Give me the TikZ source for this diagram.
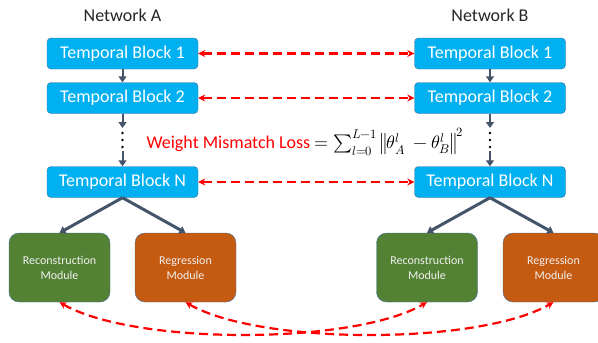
\documentclass[tikz,border=0pt]{standalone}
\usepackage{fontspec}
\usepackage{unicode-math}
\setmainfont{Carlito}
\setmathfont{Latin Modern Math}
\usetikzlibrary{positioning,arrows.meta}
\definecolor{blockBlue}{HTML}{00B0F0}
\definecolor{edgeBlue}{HTML}{41719C}
\definecolor{reconGreen}{HTML}{548235}
\definecolor{regrOrange}{HTML}{C55A11}
\definecolor{arrowGray}{HTML}{44546A}
\tikzstyle{tempBlock}=[draw=edgeBlue, fill=blockBlue, rounded corners=4pt, minimum width=151pt, minimum height=31pt, inner sep=0pt, text=white, font=\fontsize{18}{21}\selectfont]
\tikzstyle{moduleBox}=[draw=edgeBlue, rounded corners=10pt, minimum width=101pt, minimum height=69pt, inner sep=0pt, align=center, text=white!88!gray, font=\fontsize{12}{15}\selectfont]
\tikzstyle{flowArrow}=[-{Triangle[length=6pt,width=8pt]}, arrowGray, line width=2pt]
\tikzstyle{lossArrow}=[{Stealth[length=7pt,width=7pt]}-{Stealth[length=7pt,width=7pt]}, red, line width=2.2pt, dash pattern=on 9pt off 5pt]

\begin{document}
\begin{tikzpicture}[x=1pt,y=1pt]
	\useasboundingbox (0,0) rectangle (598,-343);

	\node[font=\fontsize{18}{21}\selectfont, text=black!85] (netA) at (122.5,-15) {Network A};
	\node[font=\fontsize{18}{21}\selectfont, text=black!85] (netB) at (490,-15) {Network B};

	\node[tempBlock] (a1) at (122.5,-53.5) {Temporal Block 1};
	\node[tempBlock] (a2) at (122.5,-98) {Temporal Block 2};
	\node[tempBlock] (aN) at (122.5,-182) {Temporal Block N};

	\node[tempBlock] (b1) at (490,-53.5) {Temporal Block 1};
	\node[tempBlock] (b2) at (490,-98) {Temporal Block 2};
	\node[tempBlock] (bN) at (490,-182) {Temporal Block N};

	\node[moduleBox, fill=reconGreen] (recA) at (59.5,-267.5) {Reconstruction\\Module};
	\node[moduleBox, fill=regrOrange] (regA) at (185.5,-267.5) {Regression\\Module};
	\node[moduleBox, fill=reconGreen] (recB) at (427,-267.5) {Reconstruction\\Module};
	\node[moduleBox, fill=regrOrange] (regB) at (553.5,-267.5) {Regression\\Module};

	\coordinate (a2end) at (122.5,-128);
	\coordinate (aNstart) at (122.5,-151);
	\coordinate (b2end) at (490,-128);
	\coordinate (bNstart) at (490,-151);

	\draw[flowArrow] (a1) -- (a2);
	\draw[flowArrow] (a2) -- (a2end);
	\draw[flowArrow] (aNstart) -- (aN);
	\draw[flowArrow] (b1) -- (b2);
	\draw[flowArrow] (b2) -- (b2end);
	\draw[flowArrow] (bNstart) -- (bN);

	\foreach \y in {-133,-140,-147} {
		\fill (122.5,\y) circle (1.4pt);
		\fill (490,\y) circle (1.4pt);
	}

	\draw[flowArrow, line width=3pt] (aN.south) -- (recA.north);
	\draw[flowArrow, line width=3pt] (aN.south) -- (regA.north);
	\draw[flowArrow, line width=3pt] (bN.south) -- (recB.north);
	\draw[flowArrow, line width=3pt] (bN.south) -- (regB.north);

	\draw[lossArrow] (a1) -- (b1);
	\draw[lossArrow] (a2) -- (b2);
	\draw[lossArrow] (aN) -- (bN);

	\node[anchor=west, font=\fontsize{18}{21}\selectfont] (loss) at (143,-142) {\textcolor{red}{Weight Mismatch Loss} $= \sum_{l=0}^{L-1} \left\| \theta_A^l\ - \theta_B^l \right\|^2$};

	\draw[lossArrow] (recA.south) to[out=-30,in=-150,looseness=0.6] (recB.south);
	\draw[lossArrow] (regA.south) to[out=-30,in=-150,looseness=0.6] (regB.south);
\end{tikzpicture}
\end{document}
